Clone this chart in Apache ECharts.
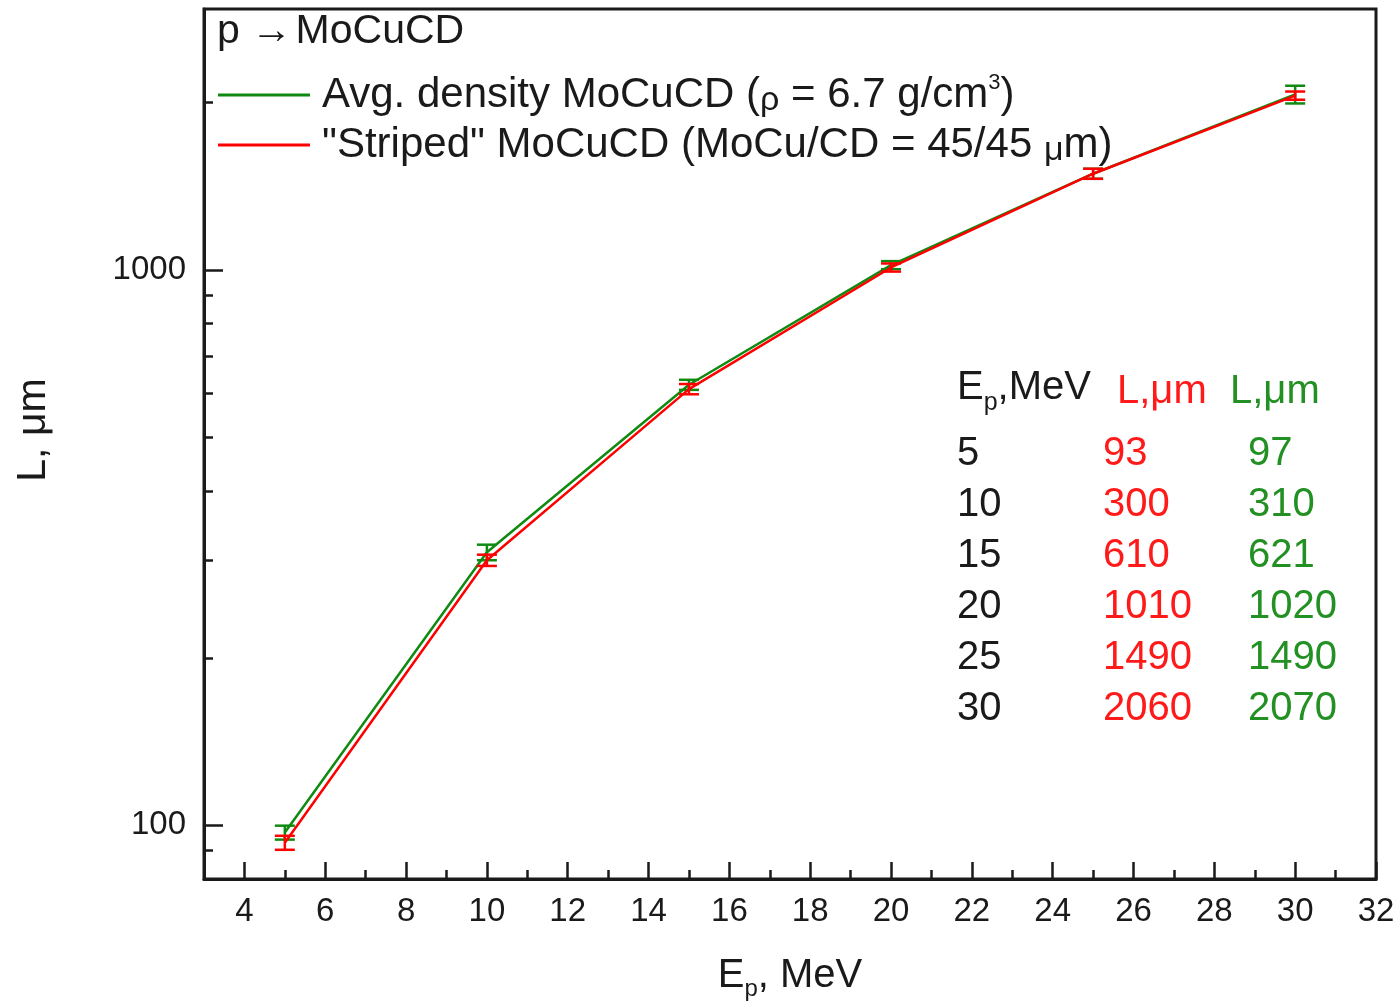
<!DOCTYPE html>
<html>
<head>
<meta charset="utf-8">
<script src="https://cdn.jsdelivr.net/npm/echarts@6/dist/echarts.min.js"></script>
<style>
  html, body { margin: 0; padding: 0; background: #fff; }
  #chart { width: 1396px; height: 1006px; }
</style>
</head>
<body>
<div id="chart"></div>
<script>
// Proton range L in MoCuCD targets versus proton energy
const energies = [5, 10, 15, 20, 25, 30];
const lenStriped = [93, 300, 610, 1010, 1490, 2060];   // "striped" MoCu/CD layers
const lenAvg = [97, 310, 621, 1020, 1490, 2070];       // averaged density target
const errStriped = [2.7, 7, 13, 17, 31, 35];
const errAvg = [2.8, 10, 13, 17, 31, 76];

// Axis ticks
const xMajorTicks = [4, 6, 8, 10, 12, 14, 16, 18, 20, 22, 24, 26, 28, 30, 32];
const xMinorTicks = [5, 7, 9, 11, 13, 15, 17, 19, 21, 23, 25, 27, 29, 31];
const yMajorTicks = [100, 1000];
const yMinorTicks = [90, 200, 300, 400, 500, 600, 700, 800, 900, 2000];

const FONT = '"Liberation Sans", Arial, sans-serif';
const INK = '#1a1a1a';
const RED = '#ff0000';
const GREEN = '#108a10';
const RED_TXT = '#ff1a1a';
const GREEN_TXT = '#229022';

const chart = echarts.init(document.getElementById('chart'), null, { renderer: 'canvas' });

function errorBars(vals, errs) {
  return energies.map((e, i) => [e, vals[i] - errs[i], vals[i] + errs[i]]);
}

function errorBarRenderer(color) {
  return function (params, api) {
    const x = api.value(0);
    const lo = api.coord([x, api.value(1)]);
    const hi = api.coord([x, api.value(2)]);
    const hw = 10;
    const style = { stroke: color, lineWidth: 2.5 };
    return {
      type: 'group',
      children: [
        { type: 'line', shape: { x1: lo[0], y1: lo[1], x2: hi[0], y2: hi[1] }, style },
        { type: 'line', shape: { x1: lo[0] - hw, y1: lo[1], x2: lo[0] + hw, y2: lo[1] }, style },
        { type: 'line', shape: { x1: hi[0] - hw, y1: hi[1], x2: hi[0] + hw, y2: hi[1] }, style }
      ]
    };
  };
}

// Inset table of the plotted values
const tableX = [957, 1103, 1248];
const rowY0 = 450, rowStep = 51;
const tableFont = 40;
const tableTexts = [];
tableTexts.push({
  type: 'text', left: 957, top: 388 - 20,
  style: {
    text: '{b|E}{s|p}{b|,MeV}',
    rich: {
      b: { fontSize: tableFont, fontFamily: FONT, fill: INK, lineHeight: 56, verticalAlign: 'middle' },
      s: { fontSize: 25, fontFamily: FONT, fill: INK, lineHeight: 56, verticalAlign: 'bottom' }
    }
  }
});
tableTexts.push({ type: 'text', left: 1117, top: 388 - 16, style: { text: 'L,μm', fontSize: tableFont, fontFamily: FONT, fill: RED_TXT } });
tableTexts.push({ type: 'text', left: 1230, top: 388 - 16, style: { text: 'L,μm', fontSize: tableFont, fontFamily: FONT, fill: GREEN_TXT } });
energies.forEach((e, i) => {
  const y = rowY0 + rowStep * i - 16;
  tableTexts.push({ type: 'text', left: tableX[0], top: y, style: { text: String(e), fontSize: tableFont, fontFamily: FONT, fill: INK } });
  tableTexts.push({ type: 'text', left: tableX[1], top: y, style: { text: String(lenStriped[i]), fontSize: tableFont, fontFamily: FONT, fill: RED_TXT } });
  tableTexts.push({ type: 'text', left: tableX[2], top: y, style: { text: String(lenAvg[i]), fontSize: tableFont, fontFamily: FONT, fill: GREEN_TXT } });
});

const axisLineStyle = { color: INK, width: 3 };

const option = {
  backgroundColor: '#fff',
  animation: false,
  grid: {
    left: 204, right: 20, top: 9, bottom: 127,
    outerBoundsMode: 'none', containLabel: false,
    show: true, borderColor: INK, borderWidth: 3, backgroundColor: 'transparent'
  },
  legend: {
    left: 213, top: 67, orient: 'vertical', itemGap: 6,
    icon: 'rect', itemWidth: 92, itemHeight: 3,
    data: ['avg', 'striped'],
    formatter: function (name) {
      if (name === 'avg') return '{t|Avg. density MoCuCD (}{g|ρ}{t| = 6.7 g/cm}{p|3}{t|)}';
      return '{t|"Striped" MoCuCD (MoCu/CD = 45/45 }{g|μ}{t|m)}';
    },
    textStyle: {
      padding: [0, 0, 0, 7],
      rich: {
        t: { fontSize: 42, fontFamily: FONT, color: INK, lineHeight: 46 },
        g: { fontSize: 34, fontFamily: FONT, color: INK, lineHeight: 46, verticalAlign: 'bottom' },
        p: { fontSize: 22, fontFamily: FONT, color: INK, lineHeight: 46, verticalAlign: 'top' }
      }
    }
  },
  graphic: [
    {
      type: 'text', left: 217, top: 11,
      style: { text: 'p \u2192\u200AMoCuCD', fontSize: 41, fontFamily: FONT, fill: INK }
    }
  ].concat(tableTexts),
  xAxis: [
    {
      type: 'value', min: 3, max: 32, position: 'bottom',
      axisLine: { lineStyle: axisLineStyle },
      axisTick: { inside: true, length: 17, lineStyle: { color: INK, width: 2.5 }, customValues: xMajorTicks },
      axisLabel: { customValues: xMajorTicks, fontSize: 33, fontFamily: FONT, color: INK, margin: 16 },
      splitLine: { show: false },
      name: '{b|E}{s|p}{b|, MeV}',
      nameLocation: 'middle', nameGap: 72,
      nameTextStyle: {
        rich: {
          b: { fontSize: 40, fontFamily: FONT, color: INK, lineHeight: 50, verticalAlign: 'middle' },
          s: { fontSize: 24, fontFamily: FONT, color: INK, lineHeight: 50, verticalAlign: 'bottom' }
        }
      }
    },
    {
      type: 'value', min: 3, max: 32, position: 'bottom',
      axisLine: { show: false },
      axisTick: { inside: true, length: 9, lineStyle: { color: INK, width: 2.5 }, customValues: xMinorTicks },
      axisLabel: { show: false },
      splitLine: { show: false }
    }
  ],
  yAxis: [
    {
      type: 'log', logBase: 10, min: 80, max: 2950, position: 'left',
      axisLine: { lineStyle: axisLineStyle },
      axisTick: { inside: true, length: 19, lineStyle: { color: INK, width: 2.5 }, customValues: yMajorTicks },
      axisLabel: { customValues: yMajorTicks, fontSize: 33, fontFamily: FONT, color: INK, margin: 18, formatter: v => String(Math.round(v)) },
      splitLine: { show: false },
      minorTick: { show: false },
      name: 'L, μm', nameLocation: 'middle', nameGap: 150, nameRotate: 90,
      nameTextStyle: { fontSize: 41, fontFamily: FONT, color: INK, padding: [0, 0, 0, 28] }
    },
    {
      type: 'log', logBase: 10, min: 80, max: 2950, position: 'left',
      axisLine: { show: false },
      axisTick: { inside: true, length: 9, lineStyle: { color: INK, width: 2.5 }, customValues: yMinorTicks },
      axisLabel: { show: false },
      splitLine: { show: false }
    }
  ],
  series: [
    {
      name: 'avg', type: 'line', xAxisIndex: 0, yAxisIndex: 0,
      data: energies.map((e, i) => [e, lenAvg[i]]),
      showSymbol: false, symbol: 'none',
      lineStyle: { color: GREEN, width: 2.5 }, itemStyle: { color: GREEN }, z: 3
    },
    {
      name: 'avg-err', type: 'custom', xAxisIndex: 0, yAxisIndex: 0,
      data: errorBars(lenAvg, errAvg), encode: { x: 0, y: [1, 2] },
      renderItem: errorBarRenderer(GREEN), z: 3
    },
    {
      name: 'striped', type: 'line', xAxisIndex: 0, yAxisIndex: 0,
      data: energies.map((e, i) => [e, lenStriped[i]]),
      showSymbol: false, symbol: 'none',
      lineStyle: { color: RED, width: 2.5 }, itemStyle: { color: RED }, z: 4
    },
    {
      name: 'striped-err', type: 'custom', xAxisIndex: 0, yAxisIndex: 0,
      data: errorBars(lenStriped, errStriped), encode: { x: 0, y: [1, 2] },
      renderItem: errorBarRenderer(RED), z: 4
    }
  ]
};

chart.setOption(option);
</script>
</body>
</html>
